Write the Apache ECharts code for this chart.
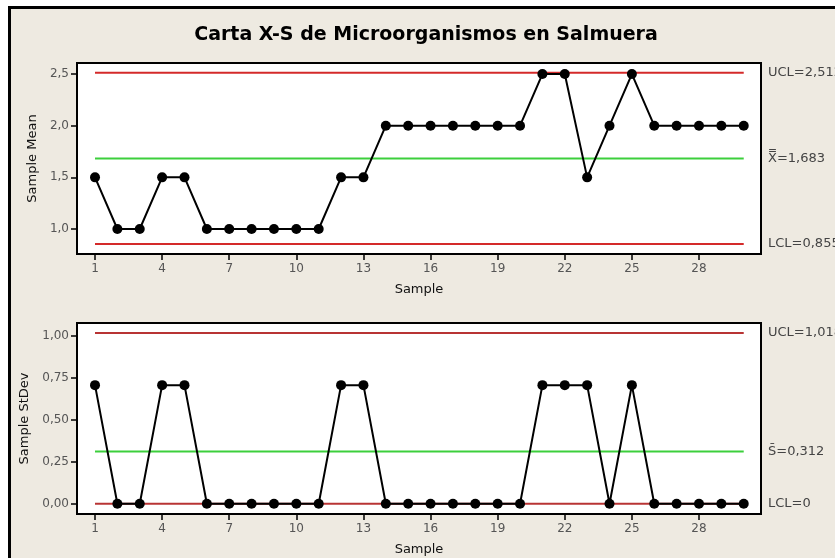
<!DOCTYPE html>
<html>
<head>
<meta charset="utf-8">
<script src="https://cdn.jsdelivr.net/npm/echarts@6/dist/echarts.min.js"></script>
<style>
  html, body { margin: 0; padding: 0; background: #fff; }
  #chart { width: 835px; height: 558px; }
</style>
</head>
<body>
<div id="chart"></div>
<script>
const samples = [1,2,3,4,5,6,7,8,9,10,11,12,13,14,15,16,17,18,19,20,21,22,23,24,25,26,27,28,29,30]
const sampleMean = [1.5,1,1,1.5,1.5,1,1,1,1,1,1,1.5,1.5,2,2,2,2,2,2,2,2.5,2.5,1.5,2,2.5,2,2,2,2,2]
const sampleStDev = [0.707,0,0,0.707,0.707,0,0,0,0,0,0,0.707,0.707,0,0,0,0,0,0,0,0.707,0.707,0.707,0,0.707,0,0,0,0,0]
const xTicks = [1,4,7,10,13,16,19,22,25,28]
const meanTicks = [1.0,1.5,2.0,2.5]
const sdTicks = [0,0.25,0.5,0.75,1.0]
const meanLimits = { ucl: 2.512, center: 1.683, lcl: 0.855 }
const sdLimits = { ucl: 1.018, center: 0.312, lcl: 0 }

const comma = (v, d) => v.toFixed(d).replace('.', ',')
const font = 'DejaVu Sans'

const pairs = ys => samples.map((s, i) => [s, ys[i]])
const hline = v => [[samples[0], v], [samples[samples.length - 1], v]]

const xAxisFor = (gridIndex) => ({
  type: 'value', gridIndex, min: 0.195, max: 30.772,
  name: 'Sample', nameLocation: 'middle', nameGap: 29,
  nameTextStyle: { fontFamily: font, fontSize: 13, color: '#111' },
  axisLine: { show: false, onZero: false },
  axisTick: { show: true, length: 6, lineStyle: { color: '#000', width: 1.5 }, customValues: xTicks },
  axisLabel: { fontFamily: font, fontSize: 12, color: '#555', margin: 9, customValues: xTicks },
  splitLine: { show: false }
})

const yAxisFor = (gridIndex, min, max, ticks, digits, name, nameGap) => ({
  type: 'value', gridIndex, min, max,
  name, nameLocation: 'middle', nameGap,
  nameTextStyle: { fontFamily: font, fontSize: 13, color: '#111' },
  axisLine: { show: false, onZero: false },
  axisTick: { show: true, length: 6, lineStyle: { color: '#000', width: 1.5 }, customValues: ticks },
  axisLabel: { fontFamily: font, fontSize: 12, color: '#555', margin: 8, customValues: ticks, formatter: v => comma(v, digits) },
  splitLine: { show: false }
})

const limitAxisFor = (gridIndex, min, max, lim, labels) => ({
  type: 'value', gridIndex, min, max, position: 'right',
  axisLine: { show: false, onZero: false }, axisTick: { show: false }, splitLine: { show: false },
  axisLabel: {
    fontFamily: font, fontSize: 13, color: '#444', margin: 7,
    customValues: [lim.ucl, lim.center, lim.lcl],
    formatter: v => v === lim.ucl ? labels[0] : v === lim.center ? labels[1] : labels[2]
  }
})

const limitSeries = (xi, yi, v, color) => ({
  type: 'line', xAxisIndex: xi, yAxisIndex: yi, data: hline(v),
  symbol: 'none', lineStyle: { color, width: 2 }, silent: true, z: 1
})

const dataSeries = (xi, yi, ys) => ({
  type: 'line', xAxisIndex: xi, yAxisIndex: yi, data: pairs(ys),
  symbol: 'circle', symbolSize: 10, itemStyle: { color: '#000' },
  lineStyle: { color: '#000', width: 2 }, z: 3
})

const gridBox = top => ({
  left: 77, top, width: 684, height: 191, outerBoundsMode: 'none', containLabel: false,
  show: true, backgroundColor: '#fff', borderColor: '#000', borderWidth: 2
})

const chart = echarts.init(document.getElementById('chart'))
chart.setOption({
  animation: false,
  backgroundColor: '#fff',
  graphic: [{
    type: 'rect', z: -10, silent: true,
    shape: { x: 9.5, y: 7.5, width: 840, height: 560 },
    style: { fill: '#eeeae1', stroke: '#000', lineWidth: 3 }
  }],
  title: {
    text: 'Carta X-S de Microorganismos en Salmuera',
    left: 421, top: 21, textAlign: 'center',
    textStyle: { fontFamily: font, fontWeight: 'bold', fontSize: 19, color: '#000' }
  },
  grid: [gridBox(63), gridBox(323)],
  xAxis: [xAxisFor(0), xAxisFor(1)],
  yAxis: [
    yAxisFor(0, 0.758, 2.607, meanTicks, 1, 'Sample Mean', 37),
    yAxisFor(1, -0.0614, 1.0775, sdTicks, 2, 'Sample StDev', 44),
    limitAxisFor(0, 0.758, 2.607, meanLimits, ['UCL=2,512', 'X\u033F=1,683', 'LCL=0,855']),
    limitAxisFor(1, -0.0614, 1.0775, sdLimits, ['UCL=1,018', 'S\u0304=0,312', 'LCL=0'])
  ],
  series: [
    limitSeries(0, 0, meanLimits.ucl, '#d42a2a'),
    limitSeries(0, 0, meanLimits.center, '#3ccf3c'),
    limitSeries(0, 0, meanLimits.lcl, '#d42a2a'),
    dataSeries(0, 0, sampleMean),
    limitSeries(1, 1, sdLimits.ucl, '#b83434'),
    limitSeries(1, 1, sdLimits.center, '#3ccf3c'),
    limitSeries(1, 1, sdLimits.lcl, '#b83434'),
    dataSeries(1, 1, sampleStDev)
  ]
})
</script>
</body>
</html>
